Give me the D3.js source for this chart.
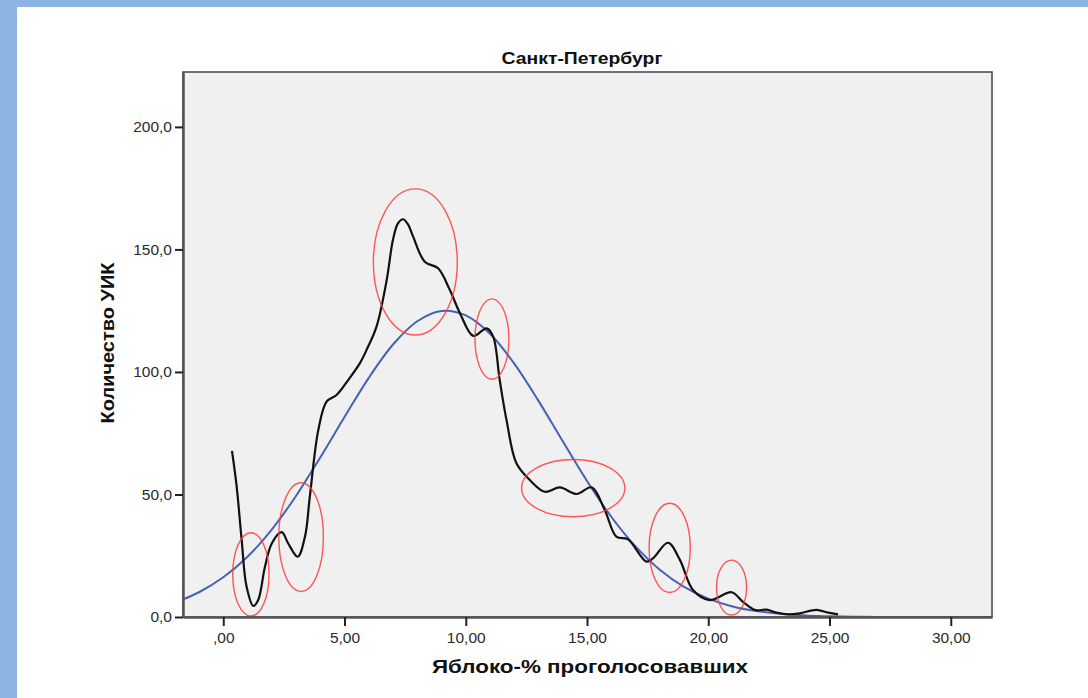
<!DOCTYPE html>
<html lang="ru">
  <head>
    <meta charset="UTF-8" />
    <title>Санкт-Петербург - Яблоко</title>
    <script src="https://d3js.org/d3.v7.min.js"></script>
    <style>
      html, body { margin: 0; padding: 0; background: #fff; }
      svg { display: block; font-family: "Liberation Sans", Arial, sans-serif; }
    </style>
  </head>
  <body>
    <svg id="chart" width="1088" height="698"></svg>

    <script>
      const obsX = [0.36, 0.55, 0.76, 0.96, 1.24, 1.44, 1.72, 2.0, 2.41, 2.68, 3.07, 3.37, 3.57, 3.92, 4.26, 4.67, 5.15, 5.63, 5.91, 6.32, 6.74, 7.0, 7.21, 7.42, 7.63, 7.83, 8.31, 8.86, 9.34, 9.76, 10.31, 10.86, 11.13, 11.4, 11.68, 12.09, 12.64, 13.26, 13.88, 14.57, 15.19, 15.73, 16.21, 16.69, 17.45, 17.73, 18.34, 18.83, 19.37, 20.06, 20.96, 21.43, 21.95, 22.4, 22.81, 23.29, 23.77, 24.46, 24.94, 25.35];
      const obsY = [67.8, 53.5, 31.4, 12.4, 4.5, 6.9, 20.5, 30, 34.6, 30, 24.6, 32.8, 49.1, 76.3, 87.9, 90.6, 96.7, 103.5, 109, 118.5, 137.5, 154, 160.7, 162.3, 160, 155.2, 145, 142.3, 133.5, 124, 114.7, 117.8, 114.4, 96.7, 80.4, 62.7, 55.9, 51.1, 52.9, 50.2, 52.9, 43.7, 32.8, 31.7, 22.6, 24, 30.3, 23.3, 11, 6.9, 10.1, 6.2, 2.8, 3.0, 1.8, 1.1, 1.5, 2.9, 1.8, 1.1];

      // Normal curve (blue line)
      const normX = [-1.66, -1, 0, 1, 2, 3, 4, 5, 6, 7, 8, 9, 10, 11, 12, 13, 14, 15, 16, 17, 18, 19, 20, 21, 22, 23, 24, 25, 26, 27, 28, 29, 30, 31, 31.7];
      const normY = [7.2, 10.1, 16.2, 24.6, 35.7, 49.4, 65.1, 81.6, 97.6, 111.2, 120.7, 124.9, 123.1, 115.6, 103.4, 88.2, 71.7, 55.5, 40.9, 28.8, 19.3, 12.3, 7.5, 4.3, 2.4, 1.3, 0.6, 0.3, 0.1, 0, 0, 0, 0, 0, 0];

      // Red annotation ellipses: centre x, centre y, radius x, radius y (data units)
      const ringCx = [1.14, 3.21, 7.92, 11.08, 14.43, 18.41, 20.96];
      const ringCy = [17.4, 32.6, 144.9, 113.4, 52.6, 28.2, 12.0];
      const ringRx = [0.75, 0.92, 1.73, 0.70, 2.13, 0.85, 0.62];
      const ringRy = [17.0, 22.2, 29.8, 16.4, 11.7, 18.2, 11.2];

      // Ticks
      const xTicks = [0, 5, 10, 15, 20, 25, 30];
      const xTickLabels = [",00", "5,00", "10,00", "15,00", "20,00", "25,00", "30,00"];
      const yTicks = [0, 50, 100, 150, 200];
      const yTickLabels = ["0,0", "50,0", "100,0", "150,0", "200,0"];

      const svg = d3.select("#chart");
      const width = +svg.attr("width");
      const height = +svg.attr("height");

      // slide frame (blue bands)
      svg.append("rect").attr("x", 0).attr("y", 0).attr("width", width).attr("height", 7).attr("fill", "#8db3e2");
      svg.append("rect").attr("x", 0).attr("y", 0).attr("width", 17).attr("height", height).attr("fill", "#8db3e2");

      const pLeft = 183, pRight = 992, pTop = 72, pBottom = 617;

      const x = d3.scaleLinear().domain([-1.66, 31.7]).range([pLeft, pRight]);
      const y = d3.scaleLinear().domain([0, 222.4]).range([pBottom, pTop]);

      // plot background
      svg.append("rect")
        .attr("x", pLeft).attr("y", pTop)
        .attr("width", pRight - pLeft).attr("height", pBottom - pTop)
        .attr("fill", "#f0f0f0");

      svg.append("clipPath").attr("id", "clip")
        .append("rect")
        .attr("x", pLeft).attr("y", pTop)
        .attr("width", pRight - pLeft).attr("height", pBottom - pTop);

      const plot = svg.append("g").attr("clip-path", "url(#clip)");

      const normData = normX.map((d, i) => ({ x: d, y: normY[i] }));
      const obsData = obsX.map((d, i) => ({ x: d, y: obsY[i] }));

      const line = d3.line()
        .x((d) => x(d.x))
        .y((d) => y(d.y))
        .curve(d3.curveCatmullRom.alpha(0.5));

      // normal curve
      plot.append("path")
        .datum(normData)
        .attr("fill", "none")
        .attr("stroke", "#4661b5")
        .attr("stroke-width", 2)
        .attr("d", line);

      // observed line
      plot.append("path")
        .datum(obsData)
        .attr("fill", "none")
        .attr("stroke", "#111")
        .attr("stroke-width", 2.2)
        .attr("stroke-linejoin", "round")
        .attr("d", line);

      // red rings
      plot.selectAll(".ring")
        .data(ringCx)
        .enter()
        .append("ellipse")
        .attr("class", "ring")
        .attr("cx", (d) => x(d))
        .attr("cy", (d, i) => y(ringCy[i]))
        .attr("rx", (d, i) => x(d + ringRx[i]) - x(d))
        .attr("ry", (d, i) => y(0) - y(ringRy[i]))
        .attr("fill", "none")
        .attr("stroke", "#ff3b3b")
        .attr("stroke-opacity", 0.85)
        .attr("stroke-width", 1.4);

      // frame
      svg.append("rect")
        .attr("x", pLeft).attr("y", pTop)
        .attr("width", pRight - pLeft).attr("height", pBottom - pTop)
        .attr("fill", "none")
        .attr("stroke", "#444")
        .attr("stroke-width", 1.5);

      // axes
      const xAxis = svg.append("g")
        .attr("transform", `translate(0,${pBottom})`)
        .call(d3.axisBottom(x)
          .tickValues(xTicks)
          .tickFormat((d, i) => xTickLabels[i])
          .tickSize(9)
          .tickSizeOuter(0)
          .tickPadding(6));

      const yAxis = svg.append("g")
        .attr("transform", `translate(${pLeft},0)`)
        .call(d3.axisLeft(y)
          .tickValues(yTicks)
          .tickFormat((d, i) => yTickLabels[i])
          .tickSize(8)
          .tickSizeOuter(0)
          .tickPadding(3));

      [xAxis, yAxis].forEach((g) => {
        g.select(".domain").attr("stroke", "#555").attr("stroke-width", 2.5);
        g.selectAll(".tick line").attr("stroke", "#222").attr("stroke-width", 2);
        g.selectAll(".tick text")
          .attr("fill", "#2a2a2a")
          .style("font-size", "15.5px")
          .style("font-family", '"Liberation Sans", Arial, sans-serif');
      });

      // titles (the source image is slightly stretched horizontally)
      svg.append("text")
        .attr("x", 582)
        .attr("y", 64)
        .attr("text-anchor", "middle")
        .attr("textLength", 161)
        .attr("lengthAdjust", "spacingAndGlyphs")
        .style("font-size", "16.5px")
        .style("font-weight", "bold")
        .attr("fill", "#111")
        .text("Санкт-Петербург");

      svg.append("text")
        .attr("x", 590)
        .attr("y", 673)
        .attr("text-anchor", "middle")
        .attr("textLength", 316)
        .attr("lengthAdjust", "spacingAndGlyphs")
        .style("font-size", "18.5px")
        .style("font-weight", "bold")
        .attr("fill", "#111")
        .text("Яблоко-% проголосовавших");

      svg.append("text")
        .attr("transform", "translate(114,343) rotate(-90)")
        .attr("text-anchor", "middle")
        .attr("textLength", 161)
        .attr("lengthAdjust", "spacingAndGlyphs")
        .style("font-size", "19px")
        .style("font-weight", "bold")
        .attr("fill", "#111")
        .text("Количество УИК");
    </script>
  </body>
</html>
